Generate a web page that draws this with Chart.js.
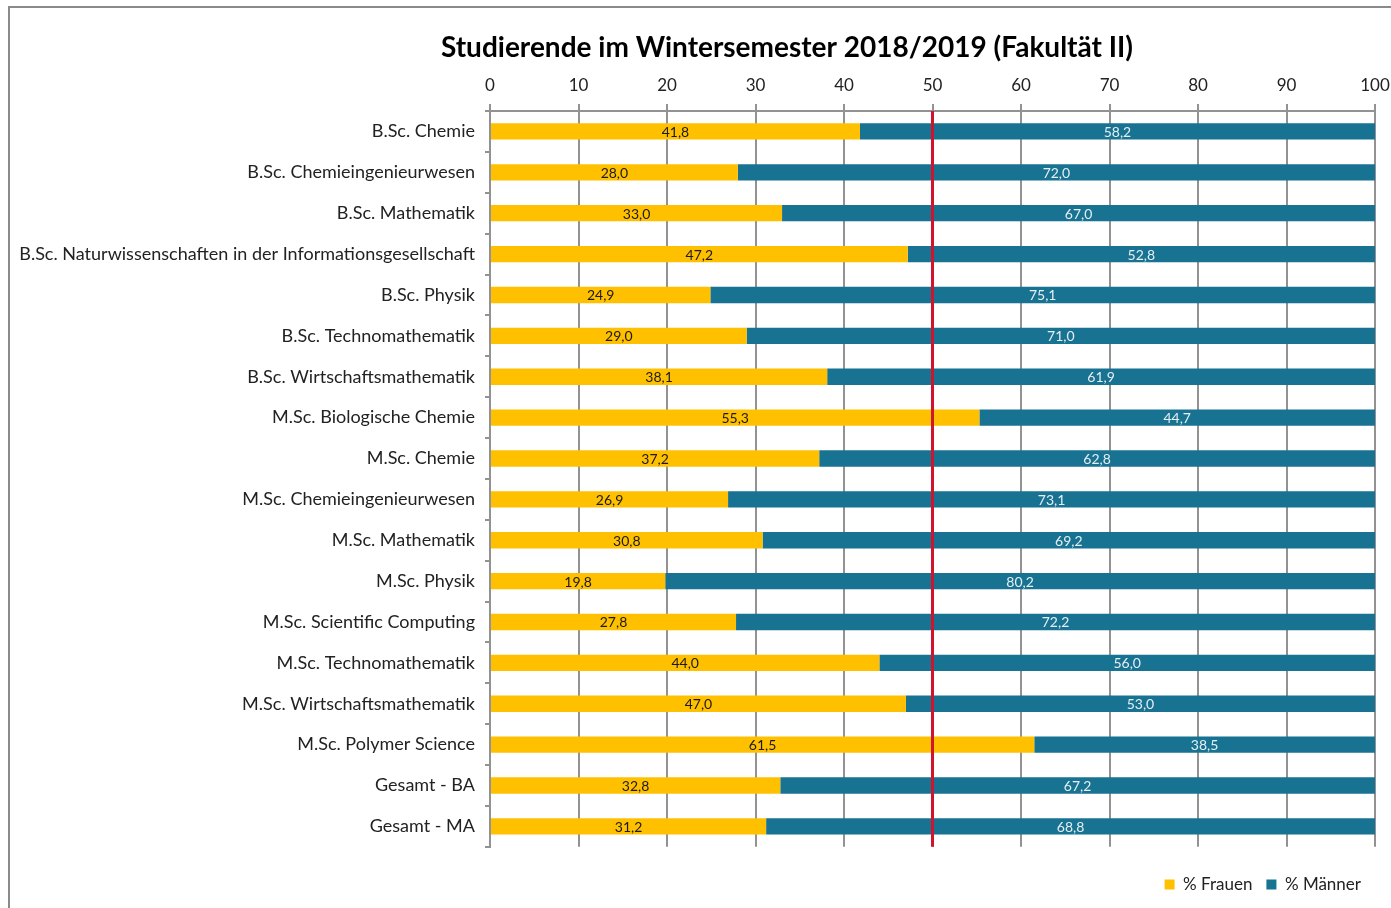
<!DOCTYPE html>
<html>
<head>
<meta charset="utf-8">
<script src="https://cdn.jsdelivr.net/npm/chart.js@4/dist/chart.umd.min.js"></script>
<style>
    html, body { margin: 0; padding: 0; overflow: hidden; background: #fff; }
    #frame {
        position: absolute; left: 8px; top: 6px;
        width: 1554px; height: 902px;
        border-left: 2px solid #8a8a8a; border-top: 2px solid #8a8a8a;
    }
</style>
</head>
<body>
<div id="frame"><canvas id="chart"></canvas></div>
<script>
const categories = [
    'B.Sc. Chemie',
    'B.Sc. Chemieingenieurwesen',
    'B.Sc. Mathematik',
    'B.Sc. Naturwissenschaften in der Informationsgesellschaft',
    'B.Sc. Physik',
    'B.Sc. Technomathematik',
    'B.Sc. Wirtschaftsmathematik',
    'M.Sc. Biologische Chemie',
    'M.Sc. Chemie',
    'M.Sc. Chemieingenieurwesen',
    'M.Sc. Mathematik',
    'M.Sc. Physik',
    'M.Sc. Scientific Computing',
    'M.Sc. Technomathematik',
    'M.Sc. Wirtschaftsmathematik',
    'M.Sc. Polymer Science',
    'Gesamt - BA',
    'Gesamt - MA'
];
const frauen = [41.8, 28.0, 33.0, 47.2, 24.9, 29.0, 38.1, 55.3, 37.2, 26.9, 30.8, 19.8, 27.8, 44.0, 47.0, 61.5, 32.8, 31.2];
const maenner = [58.2, 72.0, 67.0, 52.8, 75.1, 71.0, 61.9, 44.7, 62.8, 73.1, 69.2, 80.2, 72.2, 56.0, 53.0, 38.5, 67.2, 68.8];
const referenceValue = 50;

const FONT = 'Lato, "Open Sans", sans-serif';

const refLineAndLabels = {
    id: 'refLineAndLabels',
    afterDatasetsDraw(chart) {
        const { ctx, chartArea, scales } = chart;
        const x = scales.x.getPixelForValue(referenceValue);
        ctx.save();
        ctx.strokeStyle = '#d0142e';
        ctx.lineWidth = 3;
        ctx.beginPath();
        ctx.moveTo(x, chartArea.top);
        ctx.lineTo(x, chartArea.bottom);
        ctx.stroke();

        ctx.font = '14px ' + FONT;
        ctx.textAlign = 'center';
        ctx.textBaseline = 'middle';
        chart.data.datasets.forEach((ds, di) => {
            ctx.fillStyle = di === 0 ? '#1a1a1a' : '#e6eef2';
            chart.getDatasetMeta(di).data.forEach((bar, i) => {
                const cx = (bar.x + bar.base) / 2;
                ctx.fillText(ds.data[i].toFixed(1).replace('.', ','), cx, bar.y + 1);
            });
        });
        ctx.restore();
    }
};

new Chart(document.getElementById('chart'), {
    type: 'bar',
    data: {
        labels: categories,
        datasets: [
            { label: '% Frauen', data: frauen, backgroundColor: '#ffc000', categoryPercentage: 1, barPercentage: 0.4 },
            { label: '% Männer', data: maenner, backgroundColor: '#187292', categoryPercentage: 1, barPercentage: 0.4 }
        ]
    },
    options: {
        indexAxis: 'y',
        responsive: true,
        maintainAspectRatio: false,
        animation: false,
        layout: { padding: { top: 0, bottom: 7, left: 0, right: 0 } },
        plugins: {
            title: {
                display: true,
                text: 'Studierende im Wintersemester 2018/2019 (Fakultät II)',
                color: '#000',
                font: { family: FONT, size: 28, weight: 'bold' },
                padding: { top: 23, bottom: 3 }
            },
            legend: {
                position: 'bottom',
                align: 'end',
                fullSize: false,
                title: { display: true, text: ' ', font: { size: 1 }, padding: { top: 14, bottom: 0 } },
                labels: { boxWidth: 10, boxHeight: 10, color: '#222', font: { family: FONT, size: 17 }, padding: 14 }
            },
            tooltip: { enabled: false }
        },
        scales: {
            x: {
                position: 'top',
                stacked: true,
                min: 0,
                max: 100,
                ticks: { stepSize: 10, color: '#222', font: { family: FONT, size: 17 }, padding: 8 },
                grid: { color: '#929292', lineWidth: 2, tickLength: 7 },
                border: { color: '#929292', width: 2 }
            },
            y: {
                stacked: true,
                ticks: { color: '#222', font: { family: FONT, size: 18 }, padding: 10 },
                grid: { offset: true, drawOnChartArea: false, color: '#929292', lineWidth: 2, tickLength: 5 },
                border: { color: '#929292', width: 2 },
                afterFit: s => { s.width = 480; }
            },
            spacer: {
                type: 'linear',
                position: 'right',
                display: true,
                ticks: { display: false },
                grid: { display: false },
                border: { display: false },
                afterFit: s => { s.width = 189; }
            }
        }
    },
    plugins: [refLineAndLabels]
});
</script>
</body>
</html>
